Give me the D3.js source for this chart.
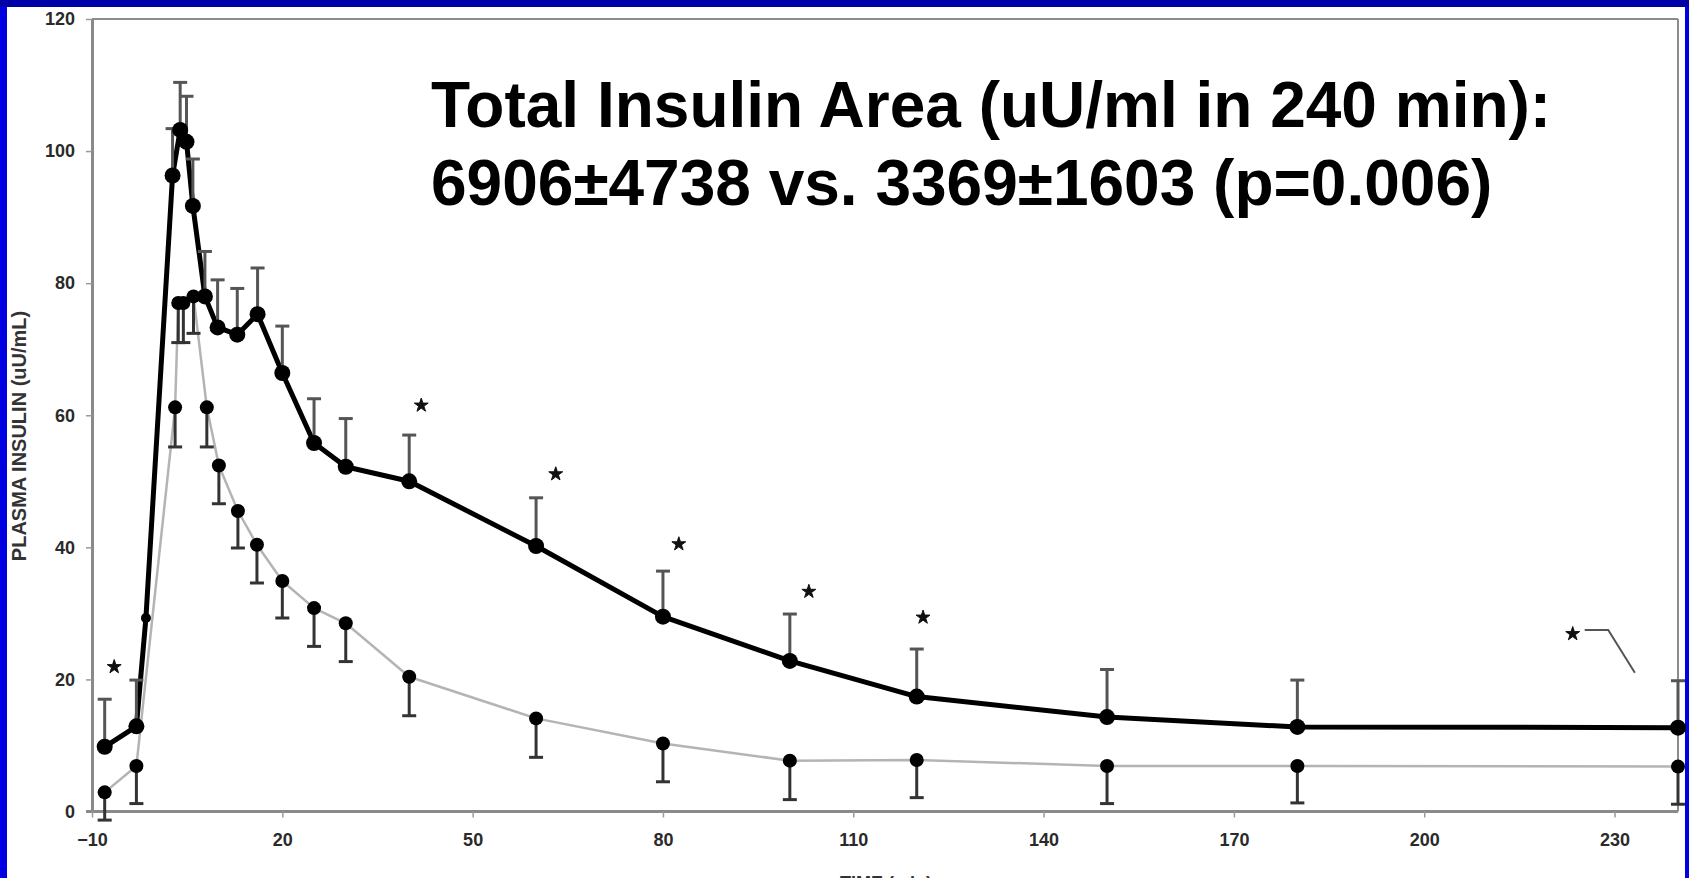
<!DOCTYPE html>
<html>
<head>
<meta charset="utf-8">
<script src="https://cdn.jsdelivr.net/npm/d3@7/dist/d3.min.js"></script>
<style>
  html, body { margin: 0; padding: 0; background: #0000e0; overflow: hidden; }
  svg { display: block; }
</style>
</head>
<body>
<svg id="chart" width="1689" height="878"></svg>
<script>
// ---------- data ----------
// Thick black series (time in min, mean, error-bar half length upward)
const blackTime = [-8, -3, -1.5, 2.7, 3.9, 4.9, 5.9, 7.8, 9.8, 12.9, 16.1, 20, 25, 30, 40, 60, 80, 100, 120, 150, 180, 240];
const blackMean = [9.8, 12.9, 29.3, 96.3, 103.2, 101.4, 91.7, 78, 73.3, 72.2, 75.3, 66.4, 55.8, 52.2, 50, 40.2, 29.5, 22.8, 17.4, 14.3, 12.8, 12.7];
const blackErr  = [7.2, 7.0, 0, 7.1, 7.2, 6.9, 7.1, 6.8, 7.2, 7.0, 7.0, 7.1, 6.7, 7.3, 7.0, 7.3, 6.9, 7.1, 7.2, 7.2, 7.1, 7.1];

// Thin grey series (error bars drawn downward)
const greyTime = [-8, -3, 3.1, 3.6, 4.4, 6, 8.1, 10, 13, 16, 20, 25, 30, 40, 60, 80, 100, 120, 150, 180, 240];
const greyMean = [2.9, 6.9, 61.2, 77, 77, 78, 61.2, 52.4, 45.5, 40.4, 34.9, 30.8, 28.5, 20.4, 14.1, 10.3, 7.7, 7.8, 6.9, 6.9, 6.8];
const greyErr  = [4.2, 5.7, 6.0, 6.0, 6.0, 5.6, 6.0, 5.8, 5.6, 5.8, 5.6, 5.8, 5.8, 5.9, 5.9, 5.8, 5.9, 5.7, 5.7, 5.6, 5.7];

// significance asterisks (time, value)
const starTime  = [-6.5, 41.9, 63.1, 82.5, 103, 121, 223.4];
const starValue = [21.9, 61.5, 51.1, 40.5, 33.3, 29.4, 26.9];
// bracket next to the last asterisk
const bracketTime  = [225.3, 229, 233.2];
const bracketValue = [27.5, 27.5, 21];

const xTicks = [-10, 20, 50, 80, 110, 140, 170, 200, 230];
const yTicks = [0, 20, 40, 60, 80, 100, 120];

const titleLines = ["Total Insulin Area (uU/ml in 240 min):", "6906\u00B14738 vs. 3369\u00B11603 (p=0.006)"];
const yTitle = "PLASMA INSULIN (uU/mL)";
const xTitle = "TIME (min)";

// ---------- drawing ----------
const svg = d3.select("#chart");
const W = 1689, H = 878;
const FONT = "'Liberation Sans', Arial, sans-serif";

// blue slide frame
svg.append("rect").attr("x", 0).attr("y", 0).attr("width", W).attr("height", H).attr("fill", "#0000e0");
svg.append("rect").attr("x", 0).attr("y", 0).attr("width", W).attr("height", 7).attr("fill", "#0000a8");
svg.append("rect").attr("x", 7).attr("y", 7).attr("width", 1678).attr("height", H - 7).attr("fill", "#ffffff");

const x = d3.scaleLinear().domain([-10, 240]).range([92, 1678]);
const y = d3.scaleLinear().domain([0, 120]).range([811.5, 19]);

// plot frame (top and right)
svg.append("line").attr("x1", x(-10)).attr("x2", x(240)).attr("y1", y(120)).attr("y2", y(120))
  .attr("stroke", "#8c8c8c").attr("stroke-width", 2);
svg.append("line").attr("x1", x(240)).attr("x2", x(240)).attr("y1", y(120)).attr("y2", y(0))
  .attr("stroke", "#8c8c8c").attr("stroke-width", 2);

// axes
const yAxis = svg.append("g").attr("transform", `translate(${x(-10)},0)`)
  .call(d3.axisLeft(y).tickValues(yTicks).tickSize(6).tickSizeOuter(0).tickPadding(11).tickFormat(d3.format("d")));
const xAxis = svg.append("g").attr("transform", `translate(0,${y(0)})`)
  .call(d3.axisBottom(x).tickValues(xTicks).tickSize(6).tickSizeOuter(0).tickPadding(16).tickFormat(d3.format("d")));
[yAxis, xAxis].forEach(g => {
  g.select(".domain").attr("stroke", "#8a8a8a").attr("stroke-width", 3);
  g.selectAll(".tick line").attr("stroke", "#9a9a9a").attr("stroke-width", 1.5);
  g.selectAll(".tick text").attr("fill", "#2a2a2a").attr("font-family", FONT)
    .attr("font-weight", "bold").attr("font-size", 18);
});
xAxis.select(".domain").attr("d", `M${x(-10) - 6},0H${x(240)}`);

// axis titles
svg.append("text").attr("transform", "translate(26,436) rotate(-90)")
  .attr("text-anchor", "middle").attr("font-family", FONT).attr("font-weight", "bold")
  .attr("font-size", 20).attr("fill", "#333").text(yTitle);
svg.append("text").attr("x", 886).attr("y", 889).attr("text-anchor", "middle")
  .attr("font-family", FONT).attr("font-weight", "bold").attr("font-size", 18)
  .attr("fill", "#333").text(xTitle);

const black = blackTime.map((t, i) => ({ t, v: blackMean[i], e: blackErr[i] }));
const grey = greyTime.map((t, i) => ({ t, v: greyMean[i], e: greyErr[i] }));

const line = d3.line().x(d => x(d.t)).y(d => y(d.v));

// grey thin line
svg.append("path").datum(grey).attr("d", line).attr("fill", "none")
  .attr("stroke", "#b4b4b4").attr("stroke-width", 2.5).attr("stroke-linejoin", "round");
// black thick line
svg.append("path").datum(black).attr("d", line).attr("fill", "none")
  .attr("stroke", "#000").attr("stroke-width", 5).attr("stroke-linejoin", "round");

// error bars
function errBars(data, dir, color) {
  const g = svg.append("g");
  const d = data.filter(p => p.e > 0);
  g.selectAll("line.v").data(d).join("line")
    .attr("x1", p => x(p.t)).attr("x2", p => x(p.t))
    .attr("y1", p => y(p.v)).attr("y2", p => y(p.v + dir * p.e))
    .attr("stroke", color).attr("stroke-width", 3);
  g.selectAll("line.c").data(d).join("line")
    .attr("x1", p => x(p.t) - 7).attr("x2", p => x(p.t) + 7)
    .attr("y1", p => y(p.v + dir * p.e)).attr("y2", p => y(p.v + dir * p.e))
    .attr("stroke", color).attr("stroke-width", 3);
}
errBars(black, 1, "#555");
errBars(grey, -1, "#333");

// markers
svg.append("g").selectAll("circle").data(grey).join("circle")
  .attr("cx", d => x(d.t)).attr("cy", d => y(d.v)).attr("r", 7).attr("fill", "#000");
svg.append("g").selectAll("circle").data(black).join("circle")
  .attr("cx", d => x(d.t)).attr("cy", d => y(d.v)).attr("r", d => d.e > 0 ? 8 : 5).attr("fill", "#000");

// asterisks
svg.append("g").selectAll("path").data(starTime.map((t, i) => ({ t, v: starValue[i] }))).join("path")
  .attr("transform", d => `translate(${x(d.t)},${y(d.v)})`)
  .attr("d", d3.symbol(d3.symbolStar, 60)).attr("fill", "#111").attr("stroke", "#111").attr("stroke-width", 1);
svg.append("path").datum(bracketTime.map((t, i) => ({ t, v: bracketValue[i] })))
  .attr("d", line).attr("fill", "none").attr("stroke", "#555").attr("stroke-width", 2);

// title block
const title = svg.append("text").attr("font-family", FONT).attr("font-weight", "bold")
  .attr("font-size", 64).attr("fill", "#000");
title.selectAll("tspan").data(titleLines).join("tspan")
  .attr("x", 431).attr("y", (d, i) => 127 + i * 78).text(d => d);
</script>
</body>
</html>
